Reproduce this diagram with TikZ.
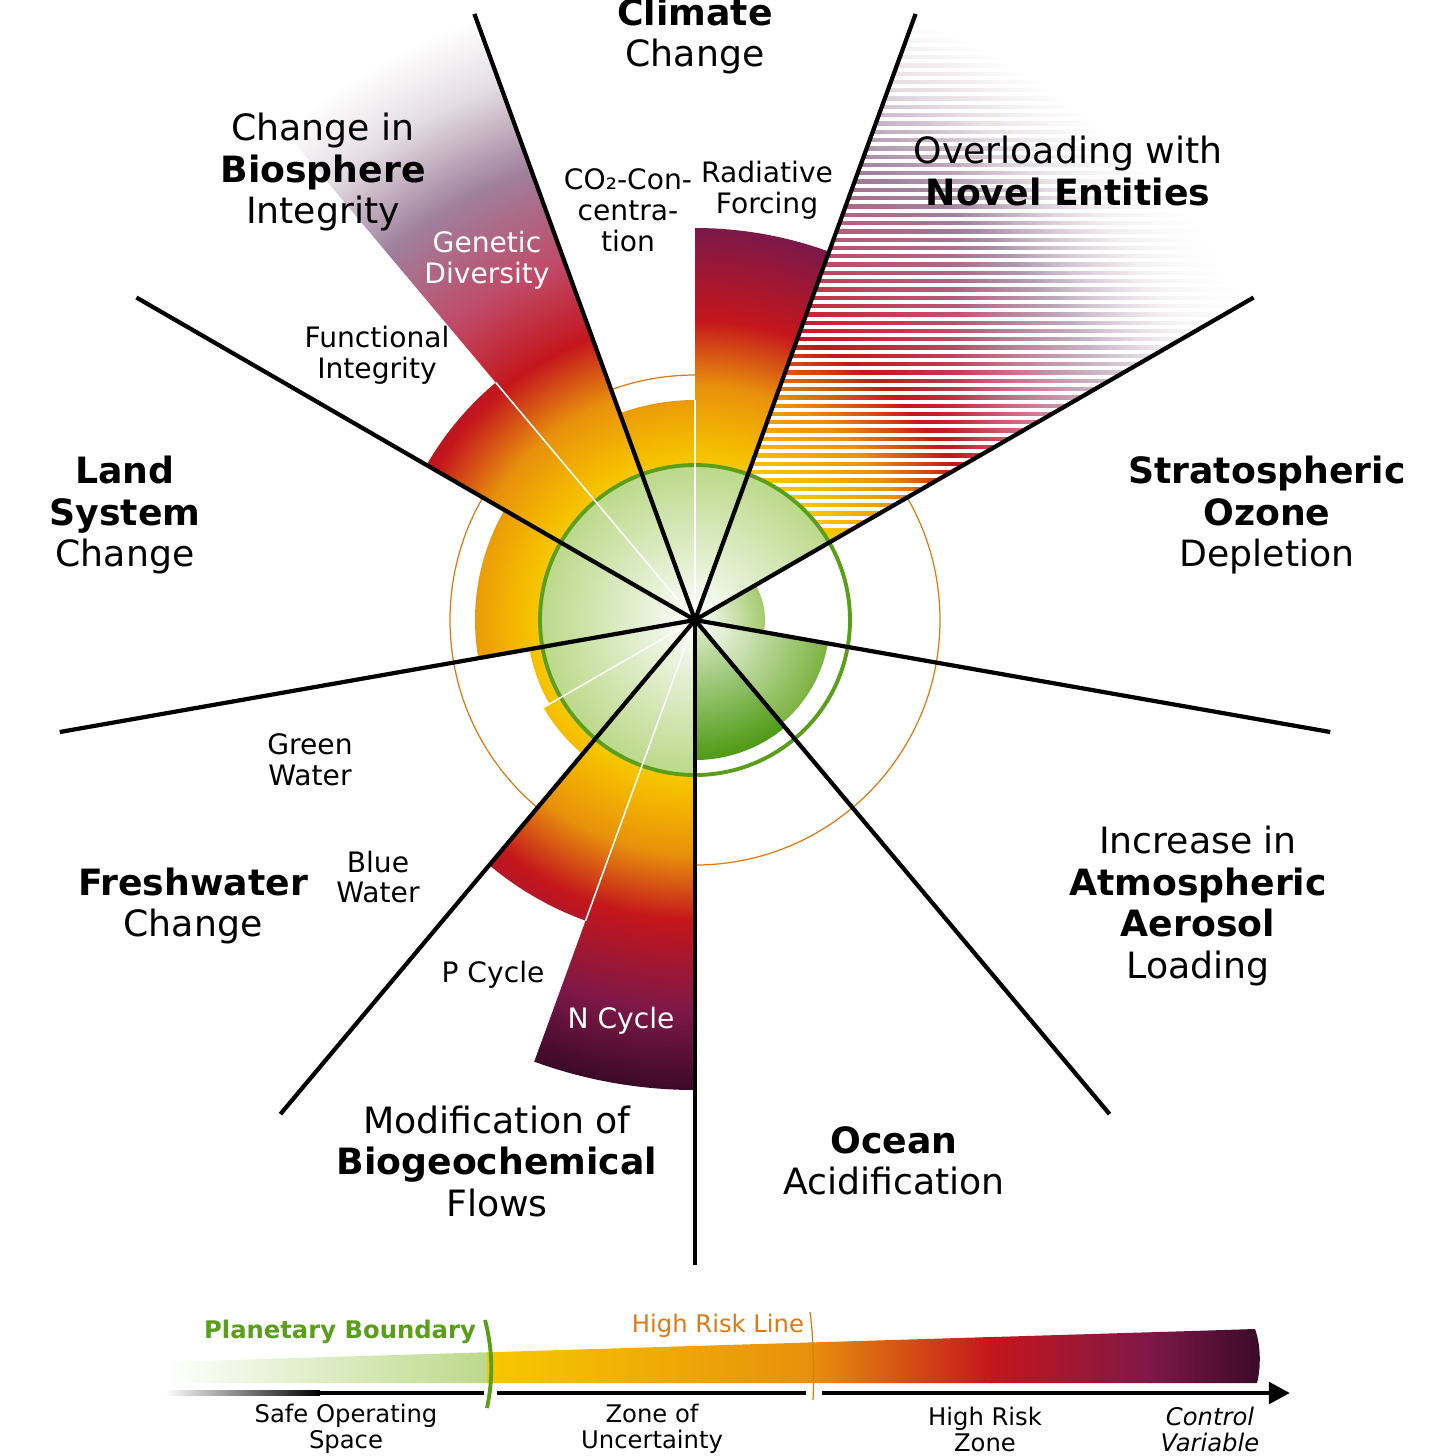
\documentclass[tikz,border=0pt]{standalone}
\usepackage{fontspec}
\setmainfont{DejaVu Sans}
\usetikzlibrary{arrows.meta,fadings}
\definecolor{gA}{HTML}{E2EFCF}
\definecolor{gB}{HTML}{BCD98A}
\definecolor{yel}{HTML}{F7C800}
\definecolor{yel2}{HTML}{F4B800}
\definecolor{ora}{HTML}{E8900C}
\definecolor{redA}{HTML}{C4161C}
\definecolor{pur}{HTML}{7E1848}
\definecolor{darkp}{HTML}{3A0A26}
\definecolor{pink}{HTML}{C04A68}
\definecolor{lilac}{HTML}{A0809C}
\definecolor{pale}{HTML}{E4DDE2}
\definecolor{pbgreen}{HTML}{5A9E1A}
\definecolor{ocg}{HTML}{4E9A14}
\definecolor{hrorange}{HTML}{E07A10}
\pgfdeclareradialshading{risk}{\pgfpoint{0bp}{0bp}}{color(0bp)=(white); color(1.9bp)=(gA); color(4.81bp)=(gB); color(4.88bp)=(yel); color(5.63bp)=(yel2); color(7.34bp)=(ora); color(9.38bp)=(redA); color(12.19bp)=(pur); color(14.69bp)=(darkp); color(50bp)=(darkp)}
\pgfdeclareradialshading{fade}{\pgfpoint{0bp}{0bp}}{color(0bp)=(white); color(1.9bp)=(gA); color(4.81bp)=(gB); color(4.88bp)=(yel); color(5.63bp)=(yel2); color(7.34bp)=(ora); color(9.38bp)=(redA); color(11.9bp)=(pink); color(15bp)=(lilac); color(17.8bp)=(pale); color(20bp)=(white); color(50bp)=(white)}
\tikzfading[name=fr, left color=transparent!100, right color=transparent!0]
\newcommand\wdg[3]{(0,0) -- (#1:#3) arc[start angle=#1,end angle=#2,radius=#3] -- cycle}
\tikzset{
  big/.style={font=\fontsize{10.3}{11.8}\selectfont, align=center, inner sep=0pt},
  small/.style={font=\fontsize{8}{8.8}\selectfont, align=center, inner sep=0pt},
  leg/.style={font=\fontsize{6.9}{7.4}\selectfont, align=center, inner sep=0pt},
  sector/.style={line width=1.2pt, black},
  subdiv/.style={line width=0.45pt, white},
}
\begin{document}
\begin{tikzpicture}[x=0.01cm,y=0.01cm]
\fill[white] (0,0) rectangle (1456,-1456);
\useasboundingbox (0,0) rectangle (1456,-1456);
\coordinate (C) at (695,-620);
\begin{scope}[shift={(695,-620)}]
  \draw[hrorange, line width=0.35pt] (0,0) circle (245);
  \foreach \a/\b/\r in {90/110/220, 70/90/392, 150/190/220, 130/150/310, 190/210/168, 210/230/175, 230/250/320, 250/270/470}{
    \begin{scope}\clip \wdg{\a}{\b}{\r}; \shade[shading=risk] (0,0) circle (800);\end{scope}
  }
  \begin{scope}\clip \wdg{110}{130}{640}; \shade[shading=fade] (0,0) circle (800);\end{scope}
  \begin{scope}
    \clip \wdg{30}{70}{640};
    \shade[shading=fade] (0,0) circle (800);
    \foreach \k in {0,...,70}{\draw[white, line width=0.4mm] (0,{94+8.3*\k}) -- (700,{94+8.3*\k});}
    \fill[white, path fading=fr] (260,0) rectangle (580,640);
  \end{scope}
  \begin{scope}\clip \wdg{30}{70}{155}; \shade[shading=risk] (0,0) circle (800);\end{scope}
  \begin{scope}\clip \wdg{-10}{30}{70}; \shade[inner color=white, outer color=gB!75!pbgreen] (0,0) circle (70);\end{scope}
  \begin{scope}\clip \wdg{-50}{-10}{135}; \shade[inner color=white, outer color=gB!35!pbgreen] (0,0) circle (135);\end{scope}
  \begin{scope}\clip \wdg{-90}{-50}{140}; \shade[inner color=gA, outer color=ocg] (0,0) circle (140);\end{scope}
  \draw[pbgreen, line width=1.1pt] (0,0) circle (155);
  \draw[subdiv] (0,0) -- (130:310);
  \draw[subdiv] (0,0) -- (90:220);
  \draw[subdiv] (0,0) -- (250:320);
  \draw[subdiv] (0,0) -- (210:175);
  \foreach \a in {110,70,30,-10,-50,-90,-130,-170,150}{\draw[sector] (C) -- (\a:645);}
\end{scope}

\node[big] (cc) at (695,-36) {\textbf{Climate}\\Change};
\node[big] (bio) at (323,-172) {Change in\\\textbf{Biosphere}\\Integrity};
\node[big] (nov) at (1068,-171) {Overloading with\\\textbf{Novel Entities}};
\node[big] (land) at (125,-515) {\textbf{Land}\\\textbf{System}\\Change};
\node[big] (ozo) at (1267,-515) {\textbf{Stratospheric}\\\textbf{Ozone}\\Depletion};
\node[big] (aer) at (1198,-906) {Increase in\\\textbf{Atmospheric}\\\textbf{Aerosol}\\Loading};
\node[big] (oce) at (894,-1161) {\textbf{Ocean}\\Acidification};
\node[big] (bgc) at (497,-1161) {Modification of\\\textbf{Biogeochemical}\\Flows};
\node[big] (fw) at (193,-906) {\textbf{Freshwater}\\Change};
\node[small] (co2) at (628,-210) {CO₂-Con-\\centra-\\tion};
\node[small] (rf) at (767,-190) {Radiative\\Forcing};
\node[small, text=white] (gd) at (487,-260) {Genetic\\Diversity};
\node[small] (fi) at (377,-355) {Functional\\Integrity};
\node[small] (gw) at (310,-760) {Green\\Water};
\node[small] (bw) at (378,-877) {Blue\\Water};
\node[small] (pc) at (493,-975) {P Cycle};
\node[small, text=white] (nc) at (621,-1021) {N Cycle};

\shade[left color=white, right color=gB] (165,-1362) -- (488,-1352.2) -- (488,-1383) -- (165,-1383) -- cycle;
\shade[left color=yel, right color=ora] (487,-1352.3) -- (811,-1342.4) -- (811,-1383) -- (487,-1383) -- cycle;
\shade[left color=ora, right color=redA] (810,-1342.5) -- (991,-1337) -- (991,-1383) -- (810,-1383) -- cycle;
\shade[left color=redA, right color=pur] (990,-1337.1) -- (1151,-1332.2) -- (1151,-1383) -- (990,-1383) -- cycle;
\shade[left color=pur, right color=darkp] (1150,-1332.3) -- (1255,-1329) .. controls (1261,-1345) and (1261,-1368) .. (1257,-1383) -- (1150,-1383) -- cycle;
\shade[left color=white, right color=black] (165,-1390.5) rectangle (320,-1395.5);
\coordinate (ax0) at (319,-1393);
\coordinate (ax1) at (484,-1393);
\coordinate (ax2) at (497,-1393);
\coordinate (ax3) at (806,-1393);
\coordinate (ax4) at (822,-1393);
\coordinate (ax5) at (1290,-1393);
\draw[line width=1.4pt] (ax0) -- (ax1);
\draw[line width=1.4pt] (ax2) -- (ax3);
\draw[line width=1.4pt, -{Triangle[length=6pt,width=6pt]}] (ax4) -- (ax5);
\draw[pbgreen, line width=1.1pt] (485,-1320) .. controls (493,-1350) and (493,-1380) .. (487,-1408);
\draw[hrorange, line width=0.35pt] (810,-1312) .. controls (814,-1340) and (814,-1380) .. (813,-1400);
\node[leg, text=pbgreen, font=\fontsize{6.9}{7.4}\selectfont\bfseries] (pb) at (340,-1332) {Planetary Boundary};
\node[leg, text=hrorange, font=\fontsize{6.9}{7.4}\selectfont] (hr) at (718,-1326) {High Risk Line};
\node[leg] (so) at (346,-1429) {Safe Operating\\Space};
\node[leg] (zu) at (652,-1429) {Zone of\\Uncertainty};
\node[leg] (hz) at (985,-1429) {High Risk\\Zone};
\node[leg, font=\fontsize{6.9}{7.4}\selectfont\itshape] (cv) at (1210,-1429) {Control\\Variable};
\end{tikzpicture}
\end{document}
